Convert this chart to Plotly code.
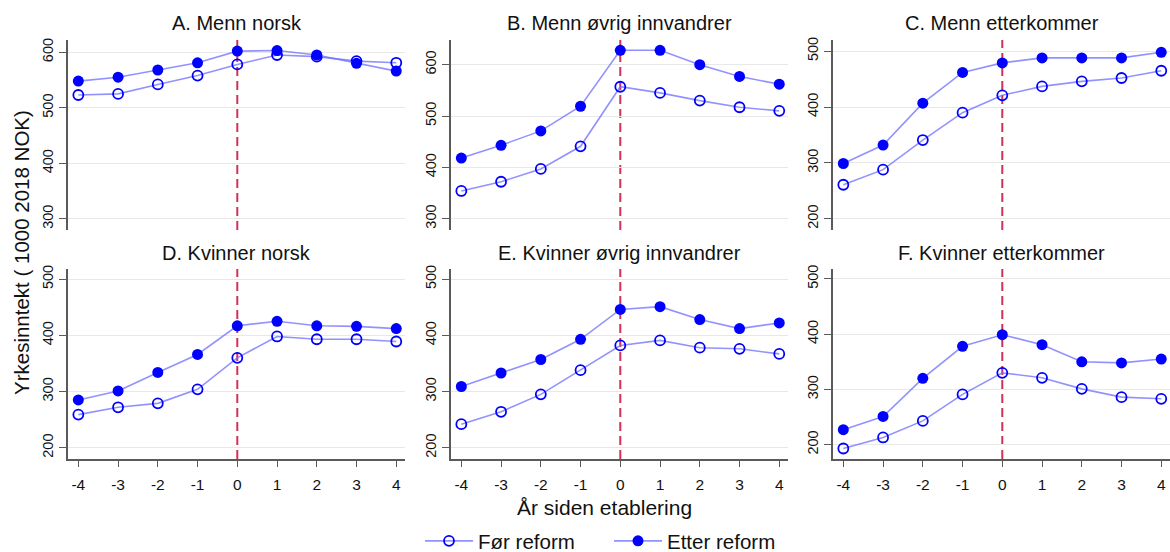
import plotly.graph_objects as go

years = [-4, -3, -2, -1, 0, 1, 2, 3, 4]
x_ticks = [-4, -3, -2, -1, 0, 1, 2, 3, 4]

titles = ["A. Menn norsk", "B. Menn øvrig innvandrer", "C. Menn etterkommer",
          "D. Kvinner norsk", "E. Kvinner øvrig innvandrer", "F. Kvinner etterkommer"]

for_A = [523, 525, 542, 558, 578, 595, 592, 584, 581]
etter_A = [548, 555, 568, 581, 602, 603, 595, 580, 566]
for_B = [354, 372, 397, 441, 557, 545, 530, 517, 510]
etter_B = [418, 443, 471, 519, 628, 628, 600, 577, 562]
for_C = [261, 288, 341, 390, 421, 437, 446, 452, 465]
etter_C = [299, 332, 407, 462, 479, 488, 488, 488, 498]
for_D = [259, 272, 279, 304, 360, 398, 393, 393, 389]
etter_D = [285, 301, 334, 366, 417, 425, 417, 416, 412]
for_E = [242, 264, 295, 338, 382, 391, 378, 376, 367]
etter_E = [309, 333, 357, 393, 446, 451, 428, 412, 422]
for_F = [193, 213, 243, 291, 330, 321, 301, 286, 283]
etter_F = [227, 251, 320, 378, 399, 381, 350, 348, 355]

before = [for_A, for_B, for_C, for_D, for_E, for_F]
after = [etter_A, etter_B, etter_C, etter_D, etter_E, etter_F]

y_ranges = [[280, 622], [278, 648], [180, 520], [180, 518], [180, 518], [174, 518]]
y_ticks = [[300, 400, 500, 600], [300, 400, 500, 600], [200, 300, 400, 500],
           [200, 300, 400, 500], [200, 300, 400, 500], [200, 300, 400, 500]]

W, H = 1170, 552
col_px = [(68, 405), (451, 788), (833, 1170)]
row_px = [(40, 230), (269, 459)]

LINE_C = "rgba(110,110,255,0.75)"
MARK_C = "#0000ff"
AXIS_C = "#5a5a5a"
GRID_C = "#e8e8e8"
FONT = "Liberation Sans, Arial, sans-serif"

fig = go.Figure()
layout = dict(
    width=W, height=H,
    margin=dict(l=0, r=0, t=0, b=0, autoexpand=False),
    plot_bgcolor="white", paper_bgcolor="white",
    font=dict(family=FONT, color="#111111"),
    showlegend=True,
)
shapes = []
annotations = []

for i in range(6):
    r, c = divmod(i, 3)
    n = i + 1
    xa = "x" if n == 1 else f"x{n}"
    ya = "y" if n == 1 else f"y{n}"
    x0, x1 = col_px[c]
    y0, y1 = row_px[r]
    bottom = (r == 1)
    layout[f"xaxis{'' if n == 1 else n}"] = dict(
        domain=[x0 / W, x1 / W], anchor=ya, range=[-4.26, 4.22],
        tickvals=x_ticks, ticktext=[str(t) for t in x_ticks],
        showticklabels=bottom, ticks="outside" if bottom else "",
        ticklen=6, tickcolor=AXIS_C, tickwidth=1.3, ticklabelstandoff=5,
        showline=bottom, linecolor=AXIS_C, linewidth=1.5,
        showgrid=False, zeroline=False, automargin=False,
        tickfont=dict(size=15.5, family=FONT, color="#111111"),
    )
    layout[f"yaxis{'' if n == 1 else n}"] = dict(
        domain=[1 - y1 / H, 1 - y0 / H], anchor=xa, range=y_ranges[i],
        tickvals=y_ticks[i], ticks="outside", ticklen=7, tickcolor=AXIS_C, tickwidth=1.3,
        tickangle=-90, showline=True, linecolor=AXIS_C, linewidth=1.5,
        showgrid=True, gridcolor=GRID_C, gridwidth=1.2, zeroline=False, automargin=False,
        tickfont=dict(size=14.5, family=FONT, color="#111111"),
    )
    shapes.append(dict(type="line", xref=xa, yref=f"{ya} domain", x0=0, x1=0, y0=0, y1=1,
                       line=dict(color="#d0325a", width=2, dash="9px,5px"), layer="below"))
    annotations.append(dict(text=titles[i], x=(x0 + x1) / 2 / W,
                            y=1 - (23 if r == 0 else 253) / H,
                            xref="paper", yref="paper", showarrow=False,
                            xanchor="center", yanchor="middle",
                            font=dict(size=20, family=FONT, color="#111111")))
    fig.add_trace(go.Scatter(
        x=years, y=before[i], xaxis=xa, yaxis=ya, mode="lines+markers",
        name="Før reform", legendgroup="for", showlegend=(i == 0),
        line=dict(color=LINE_C, width=1.6),
        marker=dict(symbol="circle-open", size=10, color=MARK_C, line=dict(width=1.8, color=MARK_C)),
    ))
    fig.add_trace(go.Scatter(
        x=years, y=after[i], xaxis=xa, yaxis=ya, mode="lines+markers",
        name="Etter reform", legendgroup="etter", showlegend=(i == 0),
        line=dict(color=LINE_C, width=1.6),
        marker=dict(symbol="circle", size=11, color=MARK_C),
    ))

annotations.append(dict(text="År siden etablering", x=604 / W, y=1 - 507 / H,
                        xref="paper", yref="paper", showarrow=False,
                        xanchor="center", yanchor="middle",
                        font=dict(size=21, family=FONT, color="#111111")))
annotations.append(dict(text="Yrkesinntekt ( 1000 2018 NOK)", x=22 / W, y=1 - 253 / H,
                        xref="paper", yref="paper", showarrow=False, textangle=-90,
                        xanchor="center", yanchor="middle",
                        font=dict(size=20.5, family=FONT, color="#111111")))

layout["shapes"] = shapes
layout["annotations"] = annotations
layout["legend"] = dict(orientation="h", x=420 / W, y=1 - 541 / H, xanchor="left", yanchor="middle",
                        font=dict(size=20.5, family=FONT, color="#111111"),
                        itemwidth=48, entrywidth=126, entrywidthmode="pixels",
                        tracegroupgap=0, bgcolor="rgba(0,0,0,0)")
fig.update_layout(**layout)
fig.write_html("out.html", config={"displayModeBar": False},
               post_script="document.body.style.margin='0';document.body.style.overflow='hidden';")
